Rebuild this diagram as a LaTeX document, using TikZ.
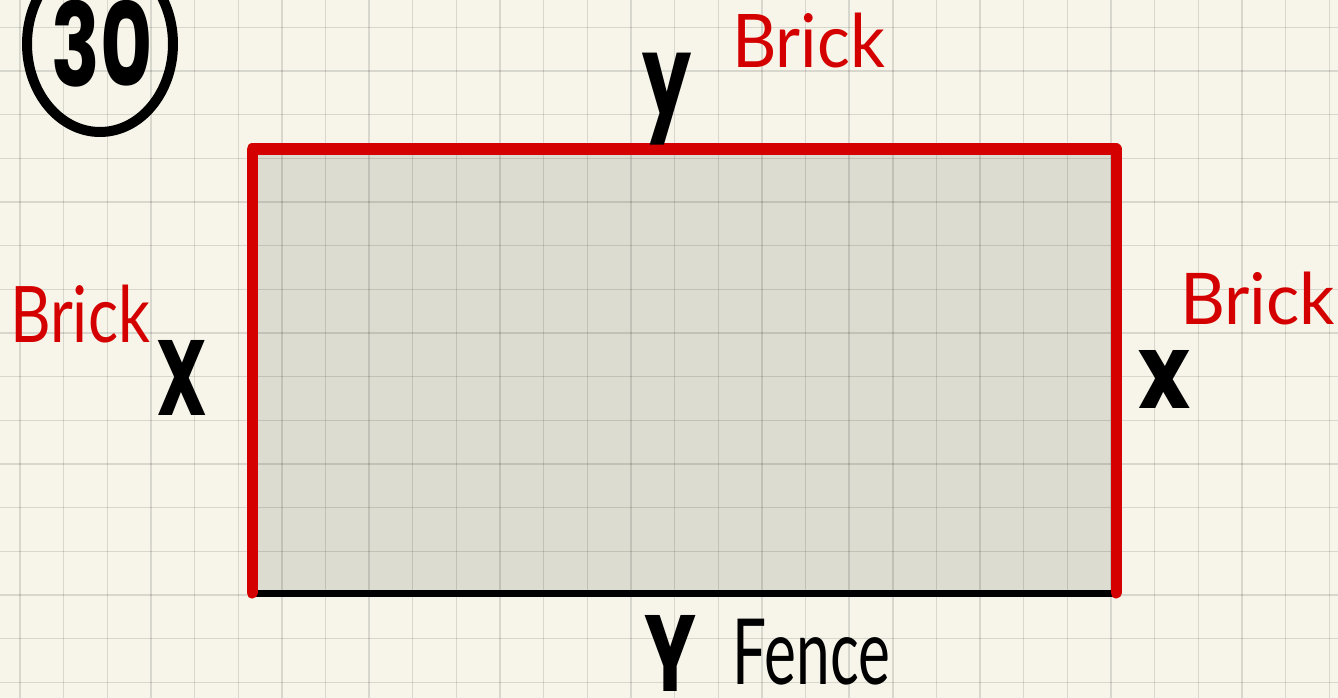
\documentclass[tikz,border=0pt]{standalone}
\usepackage{fontspec}
\usepackage{graphicx}
\newfontfamily\handbold{Poppins}
\newfontfamily\handthin{Lato}
\definecolor{paper}{HTML}{F7F5EA}
\definecolor{areagray}{HTML}{DDDCD1}
\definecolor{brickred}{HTML}{D40000}
\tikzset{
  gridline/.style={draw=black, opacity=0.12, line width=1.4pt},
  brickline/.style={draw=brickred, line width=11pt, line cap=round, line join=round},
  fenceline/.style={draw=black, line width=7pt},
  boldlabel/.style={inner sep=0pt, text=black, font=\handbold\bfseries},
  thinlabel/.style={inner sep=0pt, font=\handthin},
}
\begin{document}
\begin{tikzpicture}[x=1pt,y=-1pt]
\useasboundingbox (0,0) rectangle (1338,698);
\fill[fill=paper] (0,0) rectangle (1338,698);
\coordinate (tl) at (252,149);
\coordinate (tr) at (1116,149);
\coordinate (bl) at (252,593);
\coordinate (br) at (1116,593);
\fill[fill=areagray] (tl) rectangle (br);
\foreach \k in {0,...,30} \draw[gridline] ({20+43.64*\k},0) -- ({20+43.64*\k},698);
\foreach \k in {0,...,15} \draw[gridline] (0,{27.3+43.67*\k}) -- (1338,{27.3+43.67*\k});
\draw[fenceline] (bl) -- (br);
\draw[brickline] (bl) -- (tl) -- (tr) -- (br);
% problem number
\draw[black, line width=10pt] (100,44) ellipse [x radius=73pt, y radius=88pt];
\node[boldlabel] (num) at (102.5,43.5) {\resizebox*{101pt}{87pt}{30}};
% labels
\node[boldlabel] (ytop) at (667.5,99) {\resizebox*{49pt}{92pt}{y}};
\node[thinlabel, text=brickred] (bricktop) at (808.5,40.5) {\resizebox*{153pt}{55pt}{Brick}};
\node[thinlabel, text=brickred] (brickleft) at (80,314) {\resizebox*{140pt}{58pt}{Brick}};
\node[boldlabel] (xleft) at (182.5,377.5) {\resizebox*{51pt}{75pt}{X}};
\node[thinlabel, text=brickred] (brickright) at (1257.5,298.5) {\resizebox*{155pt}{53pt}{Brick}};
\node[boldlabel] (xright) at (1164,379) {\resizebox*{52pt}{58pt}{x}};
\node[boldlabel] (ybottom) at (671,653) {\resizebox*{52pt}{76pt}{Y}};
\node[thinlabel, text=black] (fence) at (811.5,652) {\resizebox*{157pt}{66pt}{Fence}};
\end{tikzpicture}
\end{document}
